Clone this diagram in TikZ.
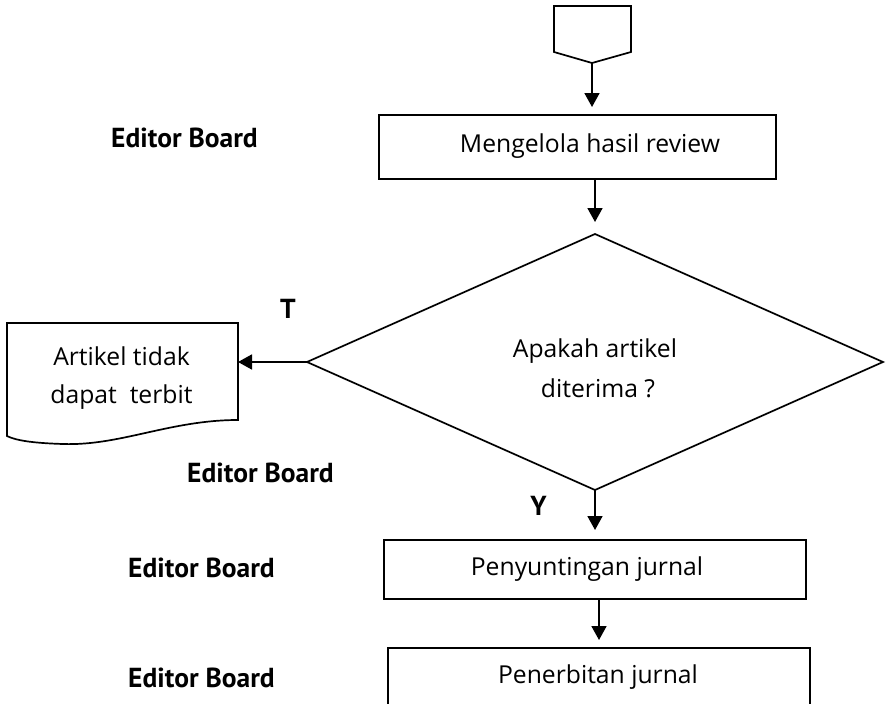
\documentclass[tikz,border=0pt]{standalone}
\usepackage{fontspec}
\setmainfont{Open Sans}
\newfontfamily\labfont{PT Sans}
\usetikzlibrary{arrows.meta}
\tikzset{
  line/.style={line width=1.7pt, line join=miter},
  arr/.style={line width=1.7pt, -{Triangle[length=14pt,width=15pt]}},
  txt/.style={anchor=base, inner sep=0pt, font=\fontsize{24.7}{30}\selectfont},
  lab/.style={anchor=base, inner sep=0pt, font=\labfont\bfseries\fontsize{27.5}{32}\selectfont},
  boxshape/.style={draw, line width=1.7pt, inner sep=0pt, anchor=north west},
}
\begin{document}
\begin{tikzpicture}[x=1pt,y=-1pt]
\useasboundingbox (0,0) rectangle (887,704);

% off-page connector
\draw[line] (554,6) -- (631,6) -- (631,52) -- (592,63) -- (554,52) -- cycle;
\coordinate (conn) at (592,63);

% box 1
\node[boxshape, minimum width=397pt, minimum height=64pt] (m) at (378,114) {};
\node[txt] (mt) at (590,152) {Mengelola hasil review};

% diamond
\coordinate (dN) at (595,234);
\coordinate (dE) at (883,362);
\coordinate (dS) at (595,490);
\coordinate (dW) at (307,362);
\draw[line] (dN) -- (dE) -- (dS) -- (dW) -- cycle;
\node[txt] (d1) at (595,357) {Apakah artikel};
\node[txt] (d2) at (598,397) {diterima ?};

% document
\draw[line] (7,323) -- (238,323) -- (238,420)
  .. controls (170,420) and (120,446) .. (63,444)
  .. controls (30,443) and (15,440) .. (7,436) -- cycle;
\coordinate (docE) at (238,362);
\node[txt] (doc1) at (121.5,365) {Artikel tidak};
\node[txt] (doc2) at (121.5,403) {dapat\ \ terbit};

% box 2, box 3
\node[boxshape, minimum width=422pt, minimum height=59pt] (b2) at (383,539) {};
\node[txt] (b2t) at (587,575) {Penyuntingan jurnal};
\node[boxshape, minimum width=422pt, minimum height=80pt] (b3) at (387,647) {};
\node[txt] (b3t) at (598,683) {Penerbitan jurnal};

% labels
\node[lab] (e1) at (184.5,147) {Editor Board};
\node[lab] (e2) at (260.5,482) {Editor Board};
\node[lab] (e3) at (201.5,577) {Editor Board};
\node[lab] (e4) at (201.5,687) {Editor Board};
\node[lab] (tl) at (288,318) {T};
\node[lab] (yl) at (538.5,515) {Y};

% connectors
\draw[arr, shorten >=7pt] (conn) -- (conn |- m.north);
\draw[arr, shorten >=12pt] (dN |- m.south) -- (dN);
\draw[arr] (dW) -- (docE);
\draw[arr, shorten >=9pt] (dS) -- (dS |- b2.north);
\draw[arr, shorten >=7pt] ([xshift=4pt]dS |- b2.south) -- ([xshift=4pt]dS |- b3.north);
\end{tikzpicture}
\end{document}
